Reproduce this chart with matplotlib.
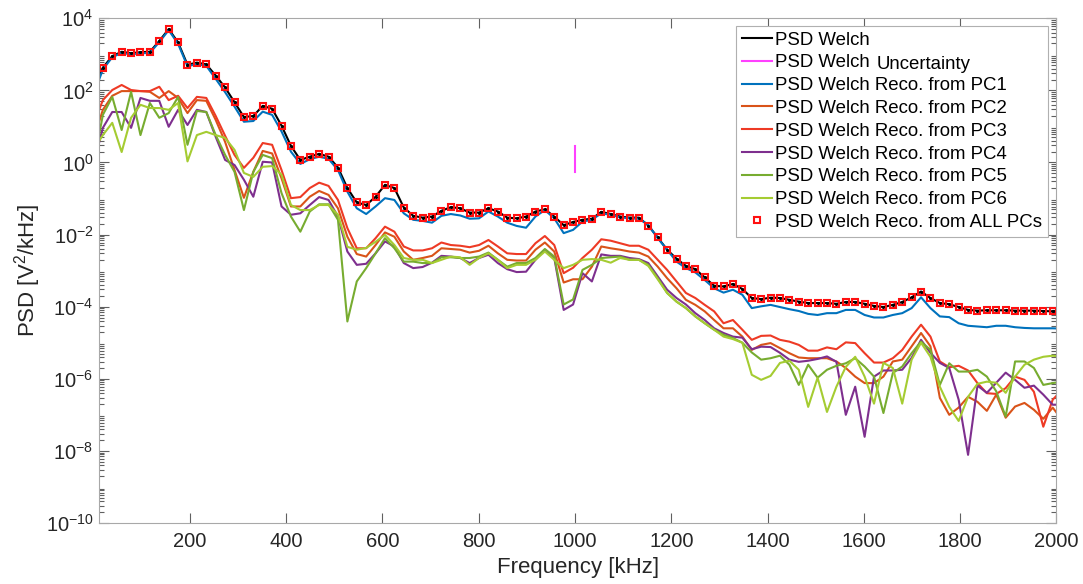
import numpy as np
import matplotlib
matplotlib.use('Agg')
import matplotlib.pyplot as plt
from matplotlib.ticker import LogLocator, NullFormatter

plt.rcParams['font.family'] = ['Liberation Sans', 'DejaVu Sans']
plt.rcParams['mathtext.default'] = 'regular'

# frequency grid (kHz), 19.53 kHz bins
freq_step_khz = 19.53125
n_bins = 104
freq_khz = freq_step_khz * np.arange(n_bins)

# PSD values, stored as log10(V^2/kHz)
log_psd_welch = [
    2.14, 2.63, 2.95, 3.07, 3.03, 3.06, 3.07, 3.37, 3.70, 3.33, 2.71, 2.77, 2.72, 2.41, 2.08, 1.67,
    1.26, 1.29, 1.57, 1.49, 1.02, 0.46, 0.07, 0.16, 0.24, 0.16, -0.14, -0.71, -1.11, -1.18, -0.95, -0.62,
    -0.71, -1.25, -1.48, -1.53, -1.50, -1.34, -1.24, -1.27, -1.39, -1.39, -1.27, -1.36, -1.53, -1.55, -1.50, -1.36,
    -1.30, -1.50, -1.74, -1.65, -1.59, -1.56, -1.37, -1.43, -1.50, -1.53, -1.53, -1.75, -2.08, -2.42, -2.67, -2.87,
    -2.96, -3.19, -3.42, -3.44, -3.37, -3.51, -3.76, -3.79, -3.75, -3.76, -3.81, -3.86, -3.90, -3.90, -3.90, -3.92,
    -3.87, -3.87, -3.92, -3.98, -4.01, -3.95, -3.87, -3.74, -3.58, -3.76, -3.90, -3.93, -4.01, -4.09, -4.11, -4.10,
    -4.10, -4.10, -4.11, -4.11, -4.11, -4.12, -4.13, -4.12]

log_pc1 = [
    1.87, 2.58, 2.92, 3.04, 3.00, 3.03, 3.04, 3.34, 3.67, 3.29, 2.67, 2.73, 2.68, 2.32, 1.95, 1.55,
    1.13, 1.15, 1.41, 1.32, 0.86, 0.30, -0.04, 0.09, 0.16, 0.10, -0.21, -0.81, -1.27, -1.43, -1.22, -0.99,
    -1.04, -1.41, -1.59, -1.62, -1.67, -1.48, -1.43, -1.47, -1.56, -1.55, -1.36, -1.50, -1.67, -1.76, -1.81, -1.50,
    -1.32, -1.55, -1.96, -1.87, -1.64, -1.59, -1.41, -1.45, -1.52, -1.55, -1.56, -1.73, -2.10, -2.42, -2.75, -2.93,
    -3.05, -3.26, -3.49, -3.61, -3.53, -3.67, -4.04, -3.99, -3.95, -4.01, -4.07, -4.12, -4.20, -4.23, -4.18, -4.18,
    -4.09, -4.09, -4.23, -4.30, -4.30, -4.23, -4.18, -4.04, -3.74, -4.04, -4.27, -4.29, -4.46, -4.53, -4.55, -4.57,
    -4.53, -4.53, -4.57, -4.59, -4.60, -4.60, -4.60, -4.61]

log_pc2 = [
    0.63, 1.46, 1.85, 1.98, 1.98, 1.98, 1.96, 1.79, 1.98, 1.79, 1.37, 1.73, 1.71, 1.18, 0.57, -0.21,
    -0.98, -0.26, 0.32, 0.25, -0.44, -1.22, -1.22, -0.95, -0.79, -0.90, -1.27, -2.06, -2.54, -2.61, -2.29, -1.94,
    -2.06, -2.47, -2.70, -2.65, -2.59, -2.38, -2.40, -2.42, -2.50, -2.45, -2.31, -2.52, -2.70, -2.72, -2.72, -2.42,
    -2.22, -2.47, -3.33, -3.24, -3.24, -2.89, -2.33, -2.38, -2.42, -2.47, -2.50, -2.61, -2.89, -3.21, -3.49, -3.81,
    -3.95, -4.13, -4.37, -4.60, -4.60, -4.83, -5.20, -5.06, -5.01, -5.15, -5.29, -5.41, -5.43, -5.43, -5.43, -5.52,
    -5.70, -5.94, -6.12, -6.12, -5.94, -5.52, -5.47, -5.10, -4.73, -5.10, -6.53, -7.00, -6.80, -6.50, -6.64, -6.89,
    -6.44, -7.08, -6.77, -6.67, -6.86, -7.11, -6.80, -7.14]

log_pc3 = [
    1.04, 1.73, 2.01, 2.15, 2.01, 1.98, 1.98, 2.10, 1.73, 1.85, 1.51, 1.82, 1.79, 1.29, 0.74, 0.21,
    -0.15, 0.13, 0.54, 0.49, -0.21, -0.99, -0.96, -0.71, -0.56, -0.65, -1.04, -1.82, -2.38, -2.38, -2.10, -1.78,
    -1.92, -2.33, -2.44, -2.44, -2.38, -2.22, -2.29, -2.31, -2.35, -2.29, -2.15, -2.33, -2.52, -2.54, -2.54, -2.24,
    -2.04, -2.29, -3.07, -2.92, -2.65, -2.42, -2.13, -2.17, -2.24, -2.31, -2.31, -2.42, -2.70, -2.98, -3.30, -3.62,
    -3.76, -3.95, -4.13, -4.46, -4.37, -4.64, -4.92, -4.81, -4.80, -4.92, -4.97, -5.06, -5.22, -5.22, -5.13, -5.18,
    -4.99, -5.01, -5.29, -5.55, -5.55, -5.43, -5.20, -4.83, -4.50, -4.83, -5.52, -5.68, -5.64, -5.77, -6.12, -6.40,
    -6.42, -6.26, -5.94, -6.03, -6.36, -7.33, -6.58, -6.31]

log_pc4 = [
    -0.07, 0.96, 1.40, 1.40, 0.96, 1.79, 1.71, 1.71, 0.99, 1.46, 1.04, 1.46, 1.40, 0.71, 0.07, -0.07,
    -0.48, -0.95, 0.02, -0.00, -1.22, -1.45, -1.41, -1.18, -0.96, -1.04, -1.50, -2.47, -2.84, -2.81, -2.52, -2.19,
    -2.33, -2.79, -2.93, -2.90, -2.78, -2.59, -2.61, -2.65, -2.79, -2.65, -2.56, -2.79, -2.96, -3.04, -3.03, -2.70,
    -2.42, -2.65, -4.09, -3.94, -3.07, -3.30, -2.55, -2.59, -2.59, -2.65, -2.68, -2.79, -3.16, -3.53, -3.76, -3.94,
    -4.18, -4.37, -4.60, -4.73, -4.83, -4.86, -5.18, -5.11, -5.12, -5.28, -5.47, -5.53, -5.50, -5.45, -5.38, -5.53,
    -7.00, -6.22, -7.61, -5.94, -5.77, -5.77, -5.75, -5.42, -4.92, -5.28, -5.56, -5.70, -6.58, -8.11, -6.19, -6.39,
    -6.11, -5.83, -6.03, -6.25, -6.19, -6.44, -6.72, -6.72]

log_pc5 = [
    -0.07, 1.32, 1.82, 0.90, 1.96, 0.76, 1.65, 1.24, 1.37, 1.82, 0.49, 1.43, 1.40, 0.76, 0.21, -0.26,
    -1.32, -0.26, 0.21, 0.12, -0.85, -1.50, -1.92, -1.36, -1.16, -1.16, -1.59, -4.41, -3.30, -2.93, -2.52, -2.10,
    -2.38, -2.75, -2.75, -2.79, -2.79, -2.63, -2.63, -2.65, -2.65, -2.61, -2.50, -2.70, -2.89, -2.79, -2.79, -2.65,
    -2.40, -2.61, -3.94, -3.80, -2.98, -2.84, -2.65, -2.63, -2.61, -2.70, -2.70, -2.84, -3.21, -3.62, -3.86, -4.04,
    -4.27, -4.46, -4.64, -4.78, -4.87, -5.00, -5.27, -5.47, -5.43, -5.36, -5.61, -6.17, -5.61, -5.97, -5.75, -5.64,
    -5.57, -5.43, -5.66, -5.94, -6.95, -5.84, -5.66, -5.29, -4.97, -5.20, -6.17, -5.57, -5.80, -5.80, -5.75, -5.94,
    -6.35, -7.05, -5.52, -5.52, -5.70, -6.17, -6.12, -6.08]

log_pc6 = [
    0.35, 0.76, 1.10, 0.29, 1.24, 1.60, 1.51, 1.51, 1.46, 1.65, 0.03, 0.76, 0.85, 0.76, 0.68, 0.35,
    -0.29, -0.40, -0.12, -0.10, -0.34, -1.18, -1.32, -1.32, -1.18, -1.18, -1.45, -2.34, -2.42, -2.37, -2.20, -2.01,
    -2.29, -2.65, -2.70, -2.70, -2.79, -2.70, -2.61, -2.63, -2.84, -2.65, -2.52, -2.70, -2.93, -2.84, -2.84, -2.70,
    -2.47, -2.70, -2.93, -2.84, -2.70, -2.68, -2.70, -2.78, -2.65, -2.70, -2.70, -2.87, -3.24, -3.62, -3.86, -4.04,
    -4.27, -4.46, -4.64, -4.83, -4.90, -5.00, -5.89, -6.03, -5.92, -5.56, -5.50, -5.75, -6.78, -5.97, -6.92, -6.22,
    -5.67, -5.39, -5.94, -6.69, -5.56, -5.70, -6.69, -5.47, -5.00, -5.39, -6.22, -6.78, -7.17, -6.50, -6.14, -6.08,
    -6.11, -6.39, -5.94, -5.61, -5.47, -5.39, -5.36, -5.39]

# reconstruction from all PCs coincides with the Welch PSD
log_all_pcs = log_psd_welch

# uncertainty bar at 1 MHz
uncert_freq = [1000, 1000]
uncert_psd = [0.54, 2.88]

pc_labels = ['PSD Welch Reco. from PC1', 'PSD Welch Reco. from PC2', 'PSD Welch Reco. from PC3',
             'PSD Welch Reco. from PC4', 'PSD Welch Reco. from PC5', 'PSD Welch Reco. from PC6']
pc_colors = ['#0072BD', '#D95319', '#EE3A25', '#7E2F8E', '#77AC30', '#A5CC32']
pc_series = [log_pc1, log_pc2, log_pc3, log_pc4, log_pc5, log_pc6]

fig = plt.figure(figsize=(10.83, 5.84), dpi=100)
ax = fig.add_axes([0.0914, 0.1045, 0.8841, 0.8642])

ax.semilogy(freq_khz, 10.0 ** np.array(log_psd_welch), color='black', lw=1.5, label='PSD Welch')
ax.semilogy(uncert_freq, uncert_psd, color='#FF40FF', lw=1.5, label='PSD Welch')
for vals, col, lab in zip(pc_series, pc_colors, pc_labels):
    ax.semilogy(freq_khz, 10.0 ** np.array(vals), color=col, lw=1.5, label=lab)
ax.semilogy(freq_khz, 10.0 ** np.array(log_all_pcs), 's', ms=4.6, mfc='none', mec='#FF1010', mew=1.5,
            label='PSD Welch Reco. from ALL PCs')
ax.semilogy(freq_khz, 10.0 ** np.array(log_psd_welch), '.', color='black', ms=2.5, label='_nolegend_')

ax.set_xlim(11.5, 2000)
ax.set_ylim(1e-10, 1e4)
ax.set_xticks(np.arange(200, 2001, 200))
ax.set_yticks([10.0 ** e for e in range(-10, 5, 2)])
ax.yaxis.set_minor_locator(LogLocator(base=10, subs=np.arange(2, 10), numticks=100))
ax.yaxis.set_minor_formatter(NullFormatter())

for sp in ax.spines.values():
    sp.set_color('#a8a8a8')
    sp.set_linewidth(0.8)
ax.tick_params(which='both', direction='in', top=True, right=True, color='#606060', width=0.8)
ax.tick_params(which='major', length=7, labelsize=14.5, labelcolor='#262626')
ax.tick_params(axis='x', which='major', pad=6.5)
ax.tick_params(axis='y', which='major', pad=4)
ax.tick_params(which='minor', length=3.5)

ax.set_xlabel('Frequency [kHz]', fontsize=16, color='#262626')
ax.set_ylabel('PSD [V$^2$/kHz]', fontsize=16, color='#262626')
ax.xaxis.set_label_coords(0.5, -0.0892)
ax.xaxis.label.set_va('center')
ax.yaxis.set_label_coords(-0.0742, 0.5)
ax.yaxis.label.set_va('center')

leg = ax.legend(loc='upper right', bbox_to_anchor=(0.9911, 0.9847), fontsize=13.4, frameon=True,
                fancybox=False, framealpha=1, edgecolor='#b0b0b0', borderaxespad=0,
                handlelength=1.6, handletextpad=0.2, labelspacing=0.31, borderpad=0.3)
leg.get_frame().set_linewidth(0.8)
fig.text(0.8095, 0.8887, 'Uncertainty', fontsize=13.4, va='center', ha='left', color='black')

fig.savefig('out.png', dpi=100)
